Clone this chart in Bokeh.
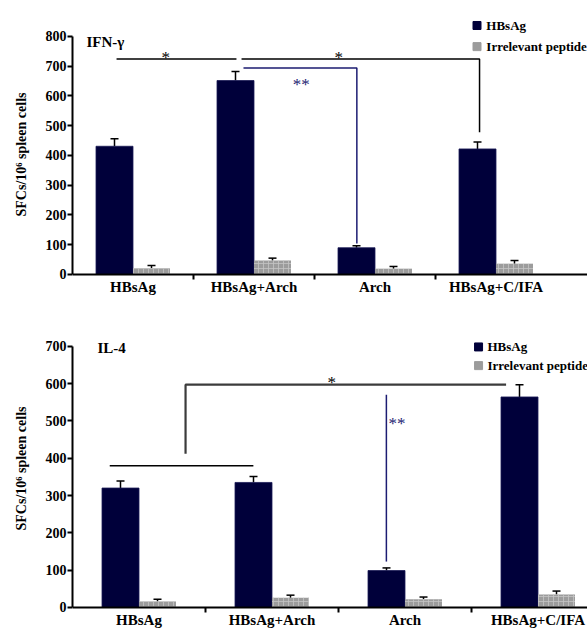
import numpy as np
from bokeh.plotting import figure
from bokeh.models import ColumnDataSource, Range1d, FixedTicker, Whisker, TeeHead
from bokeh.layouts import column
from bokeh.core.properties import value
from bokeh.embed import file_html
from bokeh.resources import INLINE

# ---------------- data ----------------
groups = ["HBsAg", "HBsAg+Arch", "Arch", "HBsAg+C/IFA"]
series_names = ["HBsAg", "Irrelevant peptide"]

ifn_hbsag = [431, 652, 90, 422]
ifn_hbsag_sem = [25, 30, 7, 23]
ifn_irrel = [21, 47, 19, 36]
ifn_irrel_sem = [9, 8, 8, 11]

il4_hbsag = [320, 335, 99, 564]
il4_hbsag_sem = [19, 16, 7, 33]
il4_irrel = [16, 26, 22, 35]
il4_irrel_sem = [6, 7, 6, 9]

ifn_ticks = [0, 100, 200, 300, 400, 500, 600, 700, 800]
il4_ticks = [0, 100, 200, 300, 400, 500, 600, 700]

# significance brackets (x in group units, y in SFC units)
ifn_br_x = [[0.864, 1.855], [1.897, 3.864, 3.864], [1.913, 2.85, 2.85]]
ifn_br_y = [[724, 724], [724, 724, 478], [694, 694, 104]]
ifn_br_kind = ["black", "black", "navy"]
ifn_mark_x = [1.27, 2.70, 2.39]
ifn_mark_y = [729, 729, 640]
ifn_mark_text = ["*", "*", "**"]
ifn_mark_kind = ["black", "black", "navy"]

il4_br_x = [[0.78, 1.86], [1.35, 1.35, 3.76], [2.86, 2.86]]
il4_br_y = [[380, 380], [412, 597, 597], [570, 123]]
il4_br_kind = ["black", "grey", "navy"]
il4_mark_x = [2.45, 2.94]
il4_mark_y = [603, 492]
il4_mark_text = ["*", "**"]
il4_mark_kind = ["black", "navy"]

# ---------------- style ----------------
FONT = "Liberation Serif"
DARK = "#00003a"
GREY = "#9c9c9c"
HATCH = "#c4c4c4"
LINE_COLORS = {"black": "#000000", "grey": "#3c3c3c", "navy": "#1c1c72"}
LINE_WIDTHS = {"black": 1.5, "grey": 2.2, "navy": 1.5}


def make_panel(title, hb, hb_sem, ir, ir_sem, ticks, ymax, yr, xr_end, px_per_group,
               height, br_x, br_y, br_kind, mk_x, mk_y, mk_text, mk_kind,
               title_pos, legend_pos):
    p = figure(width=587, height=height, output_backend="svg", toolbar_location=None,
               x_range=Range1d(0.5, xr_end), y_range=Range1d(*yr),
               min_border_left=72, min_border_right=0, min_border_top=0,
               min_border_bottom=0)
    p.outline_line_color = None
    p.grid.visible = False
    p.background_fill_color = "white"

    bw = 37.0 / px_per_group
    x = np.arange(1, len(groups) + 1, dtype=float)
    s_hb = ColumnDataSource(dict(x=x - bw / 2, top=hb,
                                 upper=[v + e for v, e in zip(hb, hb_sem)]))
    s_ir = ColumnDataSource(dict(x=x + bw / 2, top=ir,
                                 upper=[v + e for v, e in zip(ir, ir_sem)]))
    p.vbar(x="x", top="top", width=bw, source=s_hb, fill_color=DARK,
           line_color="#1a1a55", line_width=0.8)
    p.vbar(x="x", top="top", width=bw, source=s_ir, fill_color=GREY,
           line_color=None, hatch_pattern="+", hatch_color=HATCH,
           hatch_scale=5, hatch_weight=0.8)
    for s in (s_hb, s_ir):
        p.add_layout(Whisker(source=s, base="x", lower="top", upper="upper",
                             line_color="black", line_width=1.5, lower_head=None,
                             upper_head=TeeHead(size=8, line_color="black",
                                                line_width=1.5)))

    # significance brackets
    for xs, ys, k in zip(br_x, br_y, br_kind):
        p.line(xs, ys, line_color=LINE_COLORS[k], line_width=LINE_WIDTHS[k])
    for xx, yy, tt, k in zip(mk_x, mk_y, mk_text, mk_kind):
        p.text(x=[xx], y=[yy], text=[tt], text_color=LINE_COLORS[k],
               text_font=value(FONT), text_font_size="17px", text_align="center",
               text_baseline="alphabetic")

    # panel title
    p.text(x=[title_pos[0]], y=[title_pos[1]], text=[title], text_font=value(FONT),
           text_font_size="15px", text_font_style="bold", text_baseline="middle",
           text_color="black")

    # legend
    lx, ly1, ly2, tx = legend_pos
    p.scatter(x=[lx], y=[ly1], marker="square", size=8, fill_color=DARK,
              line_color=DARK)
    p.scatter(x=[lx], y=[ly2], marker="square", size=8, fill_color=GREY,
              line_color=GREY)
    p.text(x=[tx, tx], y=[ly1, ly2], text=series_names, text_font=value(FONT),
           text_font_size="13px", text_font_style="bold", text_baseline="middle",
           text_color="black")

    # axes
    ya = p.yaxis[0]
    ya.ticker = FixedTicker(ticks=ticks)
    ya.bounds = (0, ymax)
    ya.axis_line_width = 2
    ya.axis_line_color = "black"
    ya.major_tick_line_width = 2
    ya.major_tick_line_color = "black"
    ya.major_tick_out = 5
    ya.major_tick_in = 0
    ya.minor_tick_line_color = None
    ya.major_label_standoff = 1
    ya.major_label_text_font = FONT
    ya.major_label_text_font_style = "bold"
    ya.major_label_text_font_size = "14px"
    ya.major_label_text_color = "black"
    ya.axis_label = "SFCs/10\u2076 spleen cells"
    ya.axis_label_text_font = FONT
    ya.axis_label_text_font_style = "bold"
    ya.axis_label_text_font_size = "14px"
    ya.axis_label_text_color = "black"
    ya.axis_label_standoff = 14

    xa = p.xaxis[0]
    xa.fixed_location = 0
    xa.ticker = FixedTicker(ticks=list(x), minor_ticks=list(x[:-1] + 0.5))
    xa.major_label_overrides = {i + 1: g for i, g in enumerate(groups)}
    xa.axis_line_width = 2
    xa.axis_line_color = "black"
    xa.major_tick_line_color = None
    xa.major_tick_out = 4
    xa.major_tick_in = 0
    xa.minor_tick_line_width = 2
    xa.minor_tick_line_color = "black"
    xa.minor_tick_out = 5
    xa.minor_tick_in = 0
    xa.major_label_standoff = 0
    xa.major_label_text_font = FONT
    xa.major_label_text_font_style = "bold"
    xa.major_label_text_font_size = "15px"
    xa.major_label_text_color = "black"
    return p


p1 = make_panel("IFN-\u03b3", ifn_hbsag, ifn_hbsag_sem, ifn_irrel, ifn_irrel_sem,
                ifn_ticks, 800, (-114.3, 921.0), 0.5 + 515 / 121.0, 121.0, 308,
                ifn_br_x, ifn_br_y, ifn_br_kind, ifn_mark_x, ifn_mark_y,
                ifn_mark_text, ifn_mark_kind,
                (0.616, 780), (3.843, 837, 766, 3.92))

p2 = make_panel("IL-4", il4_hbsag, il4_hbsag_sem, il4_irrel, il4_irrel_sem,
                il4_ticks, 700, (-56.3, 801.0), 0.5 + 515 / 133.0, 133.0, 320,
                il4_br_x, il4_br_y, il4_br_kind, il4_mark_x, il4_mark_y,
                il4_mark_text, il4_mark_kind,
                (0.688, 696), (3.553, 698, 648, 3.62))

layout = column(p1, p2, spacing=0)
open("out.html", "w").write(file_html(layout, INLINE))
